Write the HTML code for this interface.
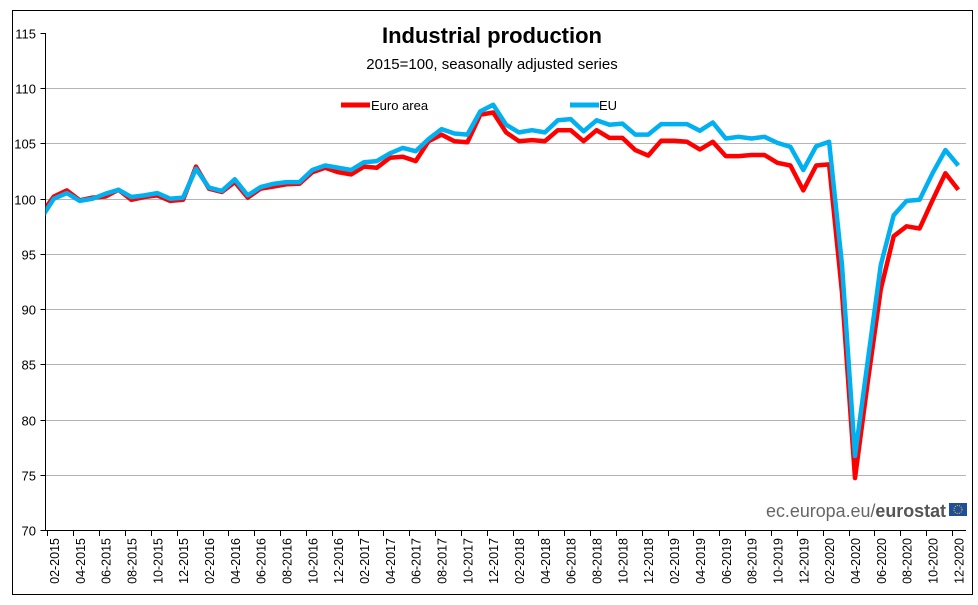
<!DOCTYPE html>
<html><head><meta charset="utf-8"><style>
html,body{margin:0;padding:0;background:#fff;width:978px;height:605px;overflow:hidden}
svg{display:block;font-family:"Liberation Sans",sans-serif}
</style></head><body>
<svg id="chart" width="978" height="605">
<rect x="12.5" y="10.5" width="960" height="584" fill="#fff" stroke="#000" stroke-width="1"/>
<text x="492" y="43" text-anchor="middle" font-size="22" font-weight="bold">Industrial production</text>
<text x="492" y="69" text-anchor="middle" font-size="15">2015=100, seasonally adjusted series</text>
<defs><clipPath id="pc"><rect x="45.5" y="20" width="925" height="520"/></clipPath></defs>
<g id="grid"></g>
<g id="yaxis"></g>
<g id="xaxis"></g>
<g id="series" clip-path="url(#pc)"></g>
<g>
<line x1="341" y1="105" x2="370" y2="105" stroke="#ff0000" stroke-width="5"/>
<text x="371" y="110" font-size="13">Euro area</text>
<line x1="570" y1="105" x2="599" y2="105" stroke="#00b0f0" stroke-width="5"/>
<text x="599" y="110" font-size="13">EU</text>
</g>
<g>
<text x="766" y="517" font-size="18" fill="#666" textLength="180" lengthAdjust="spacingAndGlyphs"><tspan>ec.europa.eu/</tspan><tspan font-weight="bold" fill="#555">eurostat</tspan></text>
<rect x="949" y="503" width="18" height="13" fill="#1f4e9c"/>
<circle cx="958" cy="509.5" r="4" fill="none" stroke="#ffcc00" stroke-width="1" stroke-dasharray="1 1.2"/>
</g>
</svg>
<script>
const euroArea = [98.6,100.2,100.75,99.85,100.1,100.2,100.8,99.9,100.15,100.3,99.8,99.9,
102.9,100.9,100.6,101.5,100.1,100.9,101.1,101.3,101.35,102.4,102.8,102.4,
102.2,102.9,102.8,103.7,103.8,103.4,105.2,105.8,105.2,105.1,107.6,107.8,
106.0,105.2,105.3,105.2,106.2,106.2,105.2,106.2,105.5,105.5,104.4,103.9,
105.25,105.25,105.15,104.45,105.15,103.85,103.85,103.95,103.95,103.25,103.0,100.75,
103.0,103.1,91.5,74.7,83.5,91.8,96.6,97.5,97.3,99.85,102.3,100.8];
const eu = [98.2,100.0,100.5,99.8,100.0,100.45,100.8,100.15,100.3,100.5,100.0,100.1,
102.7,101.0,100.7,101.75,100.3,101.05,101.35,101.5,101.5,102.6,103.0,102.8,
102.6,103.3,103.4,104.1,104.6,104.3,105.4,106.3,105.9,105.8,107.9,108.5,
106.7,106.0,106.2,106.0,107.1,107.2,106.1,107.1,106.7,106.8,105.8,105.8,
106.75,106.75,106.75,106.15,106.9,105.45,105.6,105.45,105.6,105.05,104.7,102.6,
104.75,105.15,94.0,76.7,85.4,94.0,98.5,99.8,99.9,102.3,104.4,103.0];
const yTicks = [70,75,80,85,90,95,100,105,110,115];
const years = [2015,2016,2017,2018,2019,2020];

const NS="http://www.w3.org/2000/svg";
const X0=41, DX=12.92, AXL=45.5, AXR=966;
const yScale = v => 530 - (v-70)*(497/45);
const xScale = k => X0 + DX*k;
function mk(tag, attrs, parent){const e=document.createElementNS(NS,tag);for(const k in attrs)e.setAttribute(k,attrs[k]);parent.appendChild(e);return e;}
const grid=document.getElementById('grid'), ya=document.getElementById('yaxis'), xa=document.getElementById('xaxis'), ser=document.getElementById('series');
yTicks.forEach(v=>{
  const y=Math.round(yScale(v))+0.5;
  if(v>70 && v<115){const g=mk('line',{x1:AXL,x2:AXR,y1:y,y2:y,stroke:'#b4b4b4','stroke-width':1},grid);
  
  }
  const t=mk('line',{x1:AXL-5,x2:AXL,y1:y,y2:y,stroke:'#000'},ya);
  
  
  const l=mk('text',{x:36,y:y+5,'text-anchor':'end','font-size':13},ya);
  l.textContent=v;
  
  
});
const yl=mk('line',{x1:AXL,x2:AXL,y1:yScale(115),y2:530.5,stroke:'#000'},ya);


const xl=mk('line',{x1:AXL,x2:AXR,y1:530.5,y2:530.5,stroke:'#000'},xa);


for(let k=0;k<euroArea.length;k+=2){
  const tx=Math.round(xScale(k+0.5))+0.5;
  const t=mk('line',{x1:tx,x2:tx,y1:530,y2:536,stroke:'#000'},xa);
  
  
}
for(let k=1;k<euroArea.length;k+=2){
  const m=(k%12)+1, yr=years[Math.floor(k/12)];
  const lab=(m<10?'0':'')+m+'-'+yr;
  const x=xScale(k)+5;
  const t=mk('text',{x:x,y:538,'font-size':12.5,'text-anchor':'end',transform:'rotate(-90 '+x+' 538)'},xa);
  t.textContent=lab;
  
  
}
function line(data,color,name){
  const d=data.map((v,k)=>(k?'L':'M')+xScale(k).toFixed(1)+' '+yScale(v).toFixed(1)).join(' ');
  const p=mk('path',{d:d,fill:'none',stroke:color,'stroke-width':4.5,'stroke-linejoin':'round'},ser);
  
  
}
line(euroArea,'#ff0000','euro-area-line');
line(eu,'#00b0f0','eu-line');
</script>
</body></html>
